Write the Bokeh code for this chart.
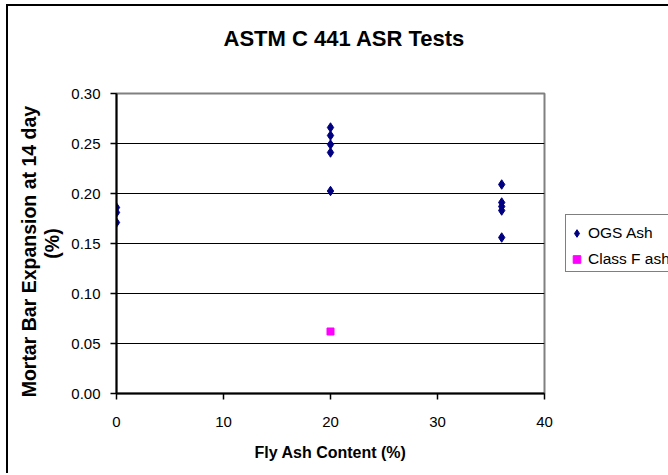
from bokeh.plotting import figure
from bokeh.models import (Range1d, FixedTicker, NumeralTickFormatter,
                          Legend, LegendItem)
from bokeh.embed import file_html
from bokeh.resources import INLINE

# ---- data ----
title_text = "ASTM C 441 ASR Tests"
x_label = "Fly Ash Content (%)"
y_label = "Mortar Bar Expansion at 14 day   \n(%)"
x_ticks = [0, 10, 20, 30, 40]
y_ticks = [0.00, 0.05, 0.10, 0.15, 0.20, 0.25, 0.30]

ogs_x = [0, 0, 0, 20, 20, 20, 20, 20, 36, 36, 36, 36, 36]
ogs_y = [0.186, 0.181, 0.171, 0.266, 0.258, 0.249, 0.241, 0.2025,
         0.209, 0.191, 0.187, 0.183, 0.156]
classf_x = [20]
classf_y = [0.062]
series_names = ["OGS Ash", "Class F ash"]

FONT = "Liberation Sans"

p = figure(frame_width=428, frame_height=300, output_backend="svg",
           toolbar_location=None,
           x_range=Range1d(0, 40), y_range=Range1d(0, 0.30),
           min_border_left=108, min_border_right=0,
           min_border_top=87, min_border_bottom=82)
p.styles = {"margin-left": "8px", "margin-top": "6px",
            "box-shadow": "-2px -2px 0px 0px black"}
p.background_fill_color = "white"
p.border_fill_color = "white"
p.outline_line_color = "#808080"
p.outline_line_width = 2

# title (second empty line lifts it towards the top of the chart)
p.title.text = title_text + "\n"
p.title.text_font = FONT
p.title.text_font_style = "bold"
p.title.text_font_size = "22px"
p.title.text_line_height = 1.1
p.title.text_color = "black"
p.title.align = "left"
p.title.offset = 107
p.title.standoff = 30

# grid
p.xgrid.grid_line_color = None
p.ygrid.grid_line_color = "black"
p.ygrid.grid_line_width = 1
p.ygrid.ticker = FixedTicker(ticks=y_ticks)

# axes
p.xaxis.ticker = FixedTicker(ticks=x_ticks)
p.yaxis.ticker = FixedTicker(ticks=y_ticks)
p.yaxis.formatter = NumeralTickFormatter(format="0.00")
for ax in (p.xaxis[0], p.yaxis[0]):
    ax.axis_line_color = "black"
    ax.axis_line_width = 2
    ax.major_tick_line_color = "black"
    ax.major_tick_line_width = 1.5
    ax.major_tick_out = 6
    ax.major_tick_in = 0
    ax.minor_tick_line_color = None
    ax.major_label_text_font = FONT
    ax.major_label_text_font_size = "15px"
    ax.major_label_text_color = "black"
    ax.axis_label_text_font = FONT
    ax.axis_label_text_font_style = "bold"
    ax.axis_label_text_color = "black"
p.xaxis.major_label_standoff = 17
p.yaxis.major_label_standoff = 10
p.xaxis.axis_label = x_label
p.xaxis.axis_label_text_font_size = "16px"
p.xaxis.axis_label_standoff = 14
p.yaxis.axis_label = y_label
p.yaxis.axis_label_text_font_size = "19.5px"
p.yaxis.axis_label_text_line_height = 1.08
p.yaxis.axis_label_standoff = 5

# data
r1 = p.scatter(ogs_x, ogs_y, marker="diamond", size=9.5,
               fill_color="#000080", line_color="#000080")
r2 = p.scatter(classf_x, classf_y, marker="square", size=7,
               fill_color="#FF00FF", line_color="#FF00FF")

legend = Legend(items=[LegendItem(label=series_names[0], renderers=[r1]),
                       LegendItem(label=series_names[1], renderers=[r2])],
                location="center_left")
legend.title = " "
legend.title_text_font_size = "5px"
legend.title_standoff = 0
legend.label_text_font = FONT
legend.label_text_font_size = "15.5px"
legend.label_text_color = "black"
legend.border_line_color = "black"
legend.border_line_width = 1.5
legend.background_fill_color = "white"
legend.padding = 1
legend.spacing = 4
legend.label_height = 22
legend.glyph_height = 22
legend.glyph_width = 19
legend.label_standoff = 2
legend.margin = 21
p.add_layout(legend, "right")

html = file_html(p, INLINE)
html = html.replace("<head>", "<head><style>html,body{margin:0;padding:0;overflow:hidden;}</style>", 1)
open("out.html", "w").write(html)
